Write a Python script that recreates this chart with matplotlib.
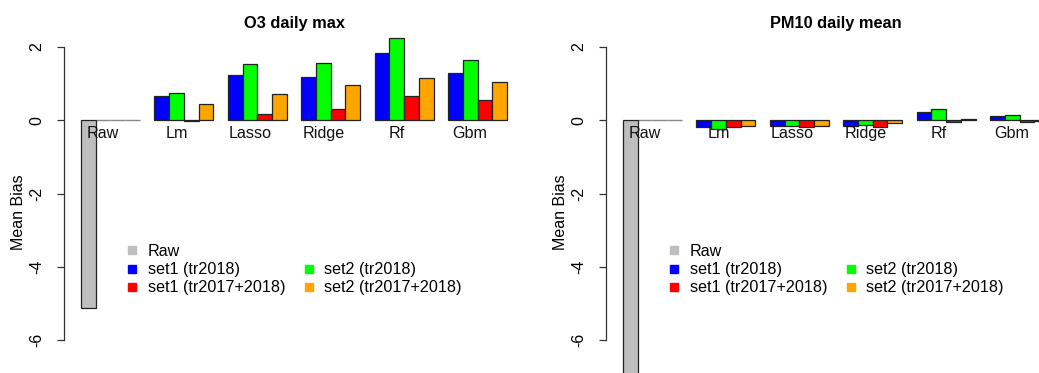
import matplotlib
matplotlib.use("Agg")
import matplotlib.pyplot as plt
from matplotlib.lines import Line2D
import numpy as np

plt.rcParams['font.family'] = ['Liberation Sans', 'DejaVu Sans']

# ---------------- data ----------------
categories = ["Raw", "Lm", "Lasso", "Ridge", "Rf", "Gbm"]
series_labels = ["set1 (tr2018)", "set2 (tr2018)", "set1 (tr2017+2018)", "set2 (tr2017+2018)"]

o3_raw = -5.12
o3_set1_tr2018 = [0.65, 1.22, 1.17, 1.82, 1.29]
o3_set2_tr2018 = [0.73, 1.54, 1.56, 2.23, 1.63]
o3_set1_tr1718 = [-0.02, 0.18, 0.31, 0.67, 0.55]
o3_set2_tr1718 = [0.45, 0.70, 0.97, 1.16, 1.03]

pm_raw = -9.0
pm_set1_tr2018 = [-0.18, -0.16, -0.15, 0.21, 0.11]
pm_set2_tr2018 = [-0.23, -0.16, -0.12, 0.29, 0.14]
pm_set1_tr1718 = [-0.20, -0.20, -0.18, -0.04, -0.06]
pm_set2_tr1718 = [-0.16, -0.15, -0.09, 0.03, -0.02]

yticks = [-6, -4, -2, 0, 2]
ytick_labels = ["-6", "-4", "-2", "0", "2"]

raw_color = "#BEBEBE"
series_colors = ["#0000FF", "#00FF00", "#FF0000", "#FFA500"]
edge = "#222222"

W, H = 1039, 373
fig = plt.figure(figsize=(W / 100, H / 100), dpi=100)


def px_axes(left, top, width, height):
    return fig.add_axes([left / W, (H - top - height) / H, width / W, height / H])


def panel(left_px, title, raw, s1, s2, s3, s4):
    ax = px_axes(left_px, 35, 460, 317)
    ax.set_xlim(-0.16, 31.16)
    ax.set_ylim(-6.32, 2.32)
    data = [s1, s2, s3, s4]
    # Raw group
    ax.bar([1.5], [raw], width=1.0, color=raw_color, edgecolor=edge, linewidth=0.9,
           clip_on=False, zorder=3)
    ax.bar([2.5, 3.5, 4.5], [0, 0, 0], width=1.0, color="none", edgecolor="#888888",
           linewidth=1.0, zorder=2)
    for g in range(1, len(categories)):
        for j in range(4):
            x = g * 5 + 1 + j + 0.5
            ax.bar([x], [data[j][g - 1]], width=1.0, color=series_colors[j],
                   edgecolor=edge, linewidth=0.9, clip_on=False, zorder=3)
    for g, cat in enumerate(categories):
        ax.text(g * 5 + 2.5, -0.36, cat, ha="center", va="center", fontsize=11.6,
                color="#111111", zorder=5)
    for s in ["top", "right", "bottom"]:
        ax.spines[s].set_visible(False)
    ax.spines["left"].set_bounds(-6, 2)
    ax.spines["left"].set_color("#333333")
    ax.spines["left"].set_linewidth(0.9)
    ax.set_xticks([])
    ax.set_yticks(yticks)
    ax.set_yticklabels(ytick_labels, rotation=90, va="center", fontsize=11.5)
    ax.tick_params(axis="y", length=5, width=0.9, color="#333333", pad=9)
    ax.set_ylabel("Mean Bias", fontsize=11.5)
    ax.yaxis.set_label_coords(-0.083, (352 - 212) / 317)
    ax.set_title(title, fontsize=11.8, fontweight="bold", pad=0, y=(352 - 28) / 317)
    handles = [Line2D([], [], marker="s", linestyle="none", markersize=5.5, color=raw_color),
               Line2D([], [], marker="s", linestyle="none", markersize=5.5, color=series_colors[0]),
               Line2D([], [], marker="s", linestyle="none", markersize=5.5, color=series_colors[2]),
               Line2D([], [], linestyle="none"),
               Line2D([], [], marker="s", linestyle="none", markersize=5.5, color=series_colors[1]),
               Line2D([], [], marker="s", linestyle="none", markersize=5.5, color=series_colors[3])]
    labels = ["Raw", series_labels[0], series_labels[2], "", series_labels[1], series_labels[3]]
    ax.legend(handles, labels, ncol=2, frameon=False, fontsize=11.6,
              loc="upper left",
              bbox_to_anchor=((left_px + 62) / W, (H - 244) / H),
              bbox_transform=fig.transFigure,
              borderpad=0, borderaxespad=0, handlelength=0.8, handletextpad=0.55,
              columnspacing=1.05, labelspacing=0.2)
    return ax


panel(64, "O3 daily max", o3_raw, o3_set1_tr2018, o3_set2_tr2018, o3_set1_tr1718, o3_set2_tr1718)
panel(606, "PM10 daily mean", pm_raw, pm_set1_tr2018, pm_set2_tr2018, pm_set1_tr1718, pm_set2_tr1718)

fig.savefig("out.png", dpi=100)
